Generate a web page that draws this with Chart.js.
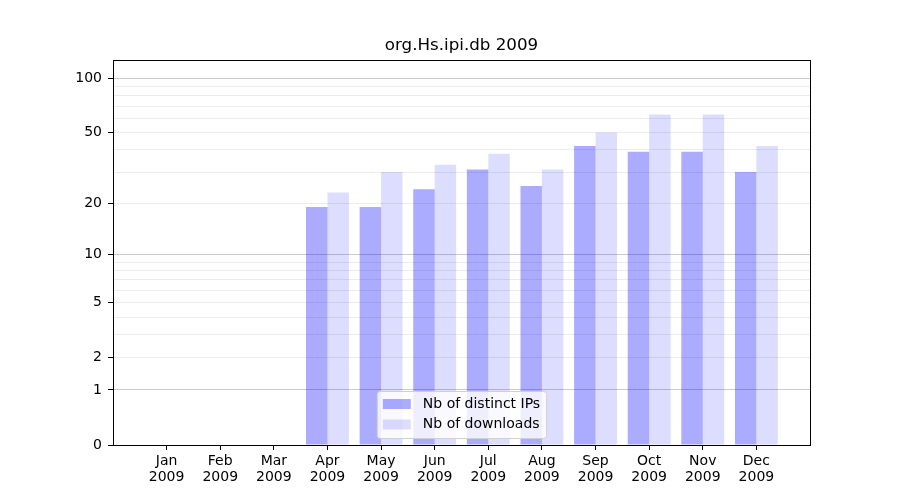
<!DOCTYPE html>
<html>
<head>
<meta charset="utf-8">
<script src="https://cdn.jsdelivr.net/npm/chart.js@4"></script>
<style>
  body { margin: 0; background: #fff; }
  canvas { display: block; }
</style>
</head>
<body>
<canvas id="chart" width="900" height="500"></canvas>
<script>
const months = ['Jan', 'Feb', 'Mar', 'Apr', 'May', 'Jun', 'Jul', 'Aug', 'Sep', 'Oct', 'Nov', 'Dec'];
const year = '2009';
const distinctIPs = [0, 0, 0, 19, 19, 24, 31, 25, 42, 39, 39, 30];
const downloads = [0, 0, 0, 23, 30, 33, 38, 31, 50, 63, 63, 42];
const yTickLabels = [0, 1, 2, 5, 10, 20, 50, 100];
const yMinorTicks = [2, 3, 4, 5, 6, 7, 8, 9, 20, 30, 40, 50, 60, 70, 80, 90];
const yMajorGrid = [1, 10, 100];
const titleText = 'org.Hs.ipi.db 2009';

const FONT = 'DejaVu Sans';

// log10(1 + x) scale, like the original plot
const fwd = (v) => Math.log10(1 + v);
const inv = (t) => Math.round(Math.pow(10, t) - 1);

// one empty slot on each side to get the wide margins
const labels = [''].concat(months.map((m) => [m, year])).concat(['']);
const pad = (arr) => [null].concat(arr.map(fwd)).concat([null]);

const allYTicks = Array.from(new Set([0, 1].concat(yMinorTicks, yMajorGrid))).sort((a, b) => a - b);

// frame + title centred over the plot area
const framePlugin = {
  id: 'frame',
  afterDraw(chart) {
    const { ctx, chartArea } = chart;
    ctx.save();
    ctx.strokeStyle = '#000';
    ctx.lineWidth = 1;
    ctx.strokeRect(
      Math.round(chartArea.left) + 0.5,
      Math.round(chartArea.top) + 0.5,
      Math.round(chartArea.right - chartArea.left),
      Math.round(chartArea.bottom - chartArea.top)
    );
    ctx.fillStyle = '#000';
    ctx.font = '16.7px "' + FONT + '"';
    ctx.textAlign = 'center';
    ctx.textBaseline = 'middle';
    ctx.fillText(titleText, (chartArea.left + chartArea.right) / 2, chartArea.top - 14);
    ctx.restore();
  },
};

const legendPlugin = {
  id: 'innerLegend',
  afterDraw(chart) {
    const { ctx, chartArea } = chart;
    const sets = chart.data.datasets;
    ctx.save();
    ctx.font = '14px "' + FONT + '"';
    const textW = Math.max(...sets.map((d) => ctx.measureText(d.label).width));
    const w = 6 + 28 + 12 + textW + 6;
    const h = 47;
    const x = (chartArea.left + chartArea.right) / 2 - w / 2;
    const y = chartArea.bottom - 7 - h;

    ctx.beginPath();
    ctx.roundRect(x + 0.5, y + 0.5, w, h, 3);
    ctx.fillStyle = 'rgba(255,255,255,0.8)';
    ctx.fill();
    ctx.strokeStyle = '#d0d0d0';
    ctx.lineWidth = 1;
    ctx.stroke();

    ctx.textBaseline = 'middle';
    ctx.textAlign = 'left';
    sets.forEach((d, i) => {
      const rowY = y + 13 + i * 20.5;
      ctx.fillStyle = d.backgroundColor;
      ctx.fillRect(x + 6, rowY - 5, 28, 10);
      ctx.fillStyle = '#000';
      ctx.fillText(d.label, x + 46, rowY);
    });
    ctx.restore();
  },
};

new Chart(document.getElementById('chart'), {
  type: 'bar',
  data: {
    labels: labels,
    datasets: [
      {
        label: 'Nb of distinct IPs',
        data: pad(distinctIPs),
        backgroundColor: 'rgba(0,0,255,0.33)',
        categoryPercentage: 0.8,
        barPercentage: 1.0,
      },
      {
        label: 'Nb of downloads',
        data: pad(downloads),
        backgroundColor: 'rgba(0,0,255,0.135)',
        categoryPercentage: 0.8,
        barPercentage: 1.0,
      },
    ],
  },
  options: {
    responsive: false,
    animation: false,
    devicePixelRatio: 1,
    layout: { padding: { left: 0, right: 90, top: 60, bottom: 0 } },
    plugins: {
      legend: { display: false },
      tooltip: { enabled: false },
      title: { display: false },
    },
    scales: {
      x: {
        offset: false,
        grid: {
          offset: false,
          drawOnChartArea: false,
          tickLength: 5,
          tickColor: (c) => (c.index === 0 || c.index === labels.length - 1 ? 'rgba(0,0,0,0)' : '#000'),
        },
        border: { display: true, color: '#000' },
        ticks: {
          color: '#000',
          font: { family: FONT, size: 14, lineHeight: 1.15 },
          maxRotation: 0,
          autoSkip: false,
          padding: 3,
        },
        afterFit(scale) {
          scale.height = 55;
        },
      },
      y: {
        min: 0,
        max: 2.104,
        afterBuildTicks(scale) {
          scale.ticks = allYTicks.map((v) => ({ value: fwd(v) }));
        },
        grid: {
          tickLength: 5,
          color: (c) => {
            const v = inv(c.tick.value);
            if (v === 0) return 'rgba(0,0,0,0)';
            return yMajorGrid.includes(v) ? '#cbcbcb' : '#ececec';
          },
          tickColor: (c) => (yTickLabels.includes(inv(c.tick.value)) ? '#000' : 'rgba(0,0,0,0)'),
        },
        border: { display: true, color: '#000' },
        ticks: {
          color: '#000',
          font: { family: FONT, size: 14 },
          autoSkip: false,
          padding: 6,
          callback: (value) => {
            const v = inv(value);
            return yTickLabels.includes(v) ? String(v) : '';
          },
        },
        afterFit(scale) {
          scale.width = 113;
        },
      },
    },
  },
  plugins: [framePlugin, legendPlugin],
});
</script>
</body>
</html>
